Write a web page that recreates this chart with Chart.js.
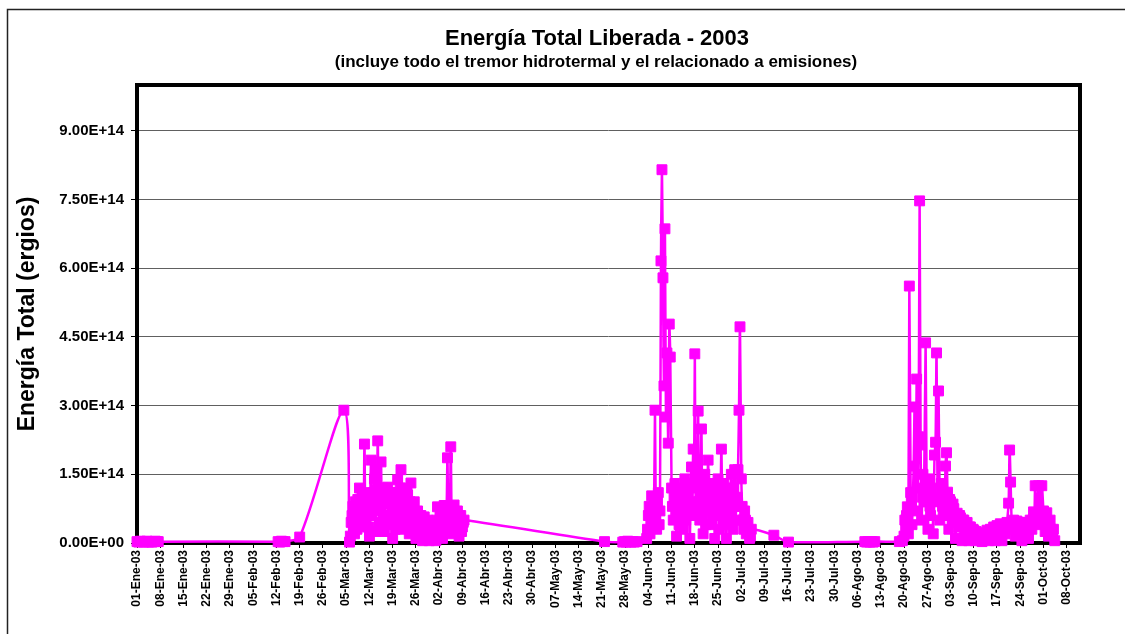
<!DOCTYPE html>
<html>
<head>
<meta charset="utf-8">
<script src="https://cdn.jsdelivr.net/npm/chart.js@4.4.0/dist/chart.umd.min.js"></script>
<style>
  html, body { margin: 0; padding: 0; background: #fff; }
  #wrap { width: 1125px; height: 634px; }
</style>
</head>
<body>
<div id="wrap"><canvas id="energia" width="1125" height="634"></canvas></div>
<script>
// x = días desde el 01-Ene-2003, y = energía en unidades de 1E+14 ergios

// enero - febrero y el pico de inicios de marzo
const diasEneFeb = [0, 0.5, 1, 1.5, 2, 2.5, 3, 3.5, 4, 4.5, 5, 5.5, 6, 6.4,
  42.5, 43, 43.5, 44, 44.6, 49, 62.3];
const energiaEneFeb = [0.03, 0.02, 0.04, 0.03, 0.02, 0.03, 0.04, 0.02, 0.03, 0.02, 0.03, 0.04, 0.03, 0.03,
  0.03, 0.02, 0.04, 0.03, 0.03, 0.13, 2.9];

// marzo - abril
const diasMarAbr = [
  64, 64.5, 65, 65.5, 66, 66.5, 67, 67.5, 68, 68.5,
  69, 69.5, 70, 70.5, 71, 71.5, 72, 72.5, 73, 73.5,
  74, 74.5, 75, 75.5, 76, 76.5, 77, 77.5, 78, 78.5,
  79, 79.5, 80, 80.5, 81, 81.5, 82, 82.5, 83, 83.5,
  84, 84.5, 85, 85.5, 86, 86.5, 87, 87.5, 88, 88.5,
  89, 89.5, 90, 90.5, 91, 91.5, 92, 92.5, 93, 93.5,
  94, 94.5, 95, 95.5, 96, 96.5, 97, 97.5, 98, 98.5];
const energiaMarAbr = [
  0.02, 0.45, 0.80, 0.20, 0.65, 0.95, 1.20, 0.35, 0.75, 2.16,
  0.55, 1.10, 0.15, 1.81, 0.85, 1.40, 1.60, 2.23, 0.45, 1.77,
  0.95, 0.25, 1.15, 1.22, 0.60, 1.00, 0.10, 1.10, 0.70, 1.38,
  0.90, 1.60, 0.30, 1.20, 0.75, 1.05, 0.20, 1.31, 0.60, 0.90,
  0.10, 0.70, 0.40, 0.60, 0.05, 0.57, 0.30, 0.50, 0.05, 0.45,
  0.25, 0.40, 0.05, 0.79, 0.35, 0.65, 0.10, 0.82, 0.50, 1.86,
  0.60, 2.10, 0.20, 0.83, 0.45, 0.70, 0.15, 0.60, 0.35, 0.50];
// lecturas intermedias de marzo - abril
const diasMarAbr2 = [
  64.25, 64.75, 65.25, 65.75, 66.25, 66.75, 67.25, 67.75, 68.25, 68.75,
  69.25, 69.75, 70.25, 70.75, 71.25, 71.75, 72.25, 72.75, 73.25, 73.75,
  74.25, 74.75, 75.25, 75.75, 76.25, 76.75, 77.25, 77.75, 78.25, 78.75,
  79.25, 79.75, 80.25, 80.75, 81.25, 81.75, 82.25, 82.75, 83.25, 83.75,
  84.25, 84.75, 85.25, 85.75, 86.25, 86.75, 87.25, 87.75, 88.25, 88.75,
  89.25, 89.75, 90.25, 90.75, 91.25, 91.75, 92.25, 92.75, 93.25, 93.75,
  94.25, 94.75, 95.25, 95.75, 96.25, 96.75, 97.25, 97.75, 98.25];
const energiaMarAbr2 = [
  0.15, 0.6, 0.4, 0.9, 0.3, 0.55, 0.8, 1.0, 0.45, 0.7,
  0.9, 0.35, 1.0, 0.6, 1.1, 0.25, 0.8, 1.05, 0.7, 0.3,
  1.2, 0.6, 0.85, 0.4, 1.1, 0.55, 0.8, 0.3, 1.0, 0.5,
  1.2, 0.65, 0.95, 0.4, 1.1, 0.55, 0.9, 0.3, 0.75, 0.45,
  0.6, 0.25, 0.55, 0.2, 0.45, 0.15, 0.4, 0.2, 0.3, 0.1,
  0.35, 0.2, 0.5, 0.3, 0.6, 0.25, 0.7, 0.4, 0.75, 0.3,
  0.8, 0.55, 0.7, 0.3, 0.6, 0.4, 0.55, 0.25, 0.45];

// mayo
const diasMay = [140.8, 146.3, 146.8, 147.3, 147.8, 148.3, 148.8, 149.3, 149.8, 150.6];
const energiaMay = [0.03, 0.02, 0.03, 0.02, 0.04, 0.03, 0.02, 0.03, 0.02, 0.03];

// junio - inicios de julio
const diasJun = [
  153.5, 154, 154.5, 155, 155.5, 156, 156.5, 157, 157.5,
  157.8, 158.1, 158.4, 158.7, 159, 159.3, 159.6, 160, 160.3, 160.6,
  161, 161.5, 162, 162.5, 163, 163.5, 164, 164.5, 165, 165.5,
  166, 166.5, 167, 167.5, 168, 168.5, 169, 169.5, 170, 170.5,
  171, 171.5, 172, 172.5, 173, 173.5, 174, 174.5, 175, 175.5,
  176, 176.5, 177, 177.5, 178, 178.5, 179, 179.5, 180, 180.5,
  181, 181.3, 181.6, 182, 182.5, 183, 183.5, 184, 184.5, 185];
const energiaJun = [
  0.1, 0.6, 0.2, 1.03, 0.5, 2.9, 0.3, 1.1, 0.7,
  6.16, 8.15, 5.79, 3.43, 6.86, 2.75, 4.15, 2.18, 4.78, 4.06,
  1.2, 0.5, 1.3, 0.15, 0.9, 0.6, 1.2, 0.3, 1.4, 0.8,
  1.3, 0.1, 1.66, 2.05, 4.13, 0.9, 2.88, 0.5, 2.49, 0.2,
  1.5, 0.7, 1.81, 0.4, 1.3, 0.9, 0.1, 1.1, 1.4, 0.3,
  2.05, 0.6, 1.2, 0.1, 1.0, 0.7, 1.5, 0.3, 1.6, 0.8,
  1.6, 2.9, 4.72, 1.4, 0.5, 0.7, 0.2, 0.45, 0.1, 0.3];
// lecturas intermedias de junio
const diasJun2 = [
  153.75, 154.25, 154.75, 155.25, 155.75, 156.25, 156.75, 157.25,
  161.25, 161.75, 162.25, 162.75, 163.25, 163.75, 164.25, 164.75, 165.25, 165.75,
  166.25, 166.75, 167.25, 167.75, 168.25, 168.75, 169.25, 169.75, 170.25, 170.75,
  171.25, 171.75, 172.25, 172.75, 173.25, 173.75, 174.25, 174.75, 175.25, 175.75,
  176.25, 176.75, 177.25, 177.75, 178.25, 178.75, 179.25, 179.75, 180.25, 180.75,
  182.25, 182.75, 183.25, 183.75, 184.25, 184.75];
const energiaJun2 = [
  0.3, 0.8, 0.5, 0.7, 1.0, 0.6, 0.9, 0.4,
  0.8, 1.0, 0.6, 1.1, 0.4, 0.9, 0.7, 1.0, 0.5, 1.1,
  0.8, 1.2, 0.6, 1.3, 0.7, 1.4, 0.9, 1.2, 0.6, 1.1,
  0.4, 1.0, 0.8, 1.2, 0.5, 1.0, 0.7, 1.2, 0.6, 1.0,
  0.8, 1.3, 0.5, 0.9, 0.4, 1.1, 0.8, 1.2, 0.5, 1.0,
  0.8, 0.3, 0.5, 0.35, 0.25, 0.15];

// julio - agosto (tranquilo)
const diasJulAgo = [191.8, 196.2, 219.2, 219.7, 220.2, 220.7, 221.2, 221.7, 222.2, 229.6, 230.5];
const energiaJulAgo = [0.17, 0.02, 0.03, 0.02, 0.03, 0.02, 0.03, 0.02, 0.03, 0.03, 0.05];

// fines de agosto - octubre
const diasAgoOct = [
  231, 231.5, 232, 232.3, 232.6, 233, 233.4, 233.9, 234.2, 234.5,
  234.8, 235.1, 235.4, 235.7, 236, 236.3, 236.7, 237, 237.5, 237.8,
  238.2, 238.6, 239, 239.4, 239.8, 240.2, 240.5, 240.8, 241.1, 241.4,
  241.8, 242.2, 242.6, 243, 243.5, 243.8, 244.1, 244.5, 245, 245.5,
  246, 246.5, 247, 247.5, 248, 248.5, 249, 249.5, 250, 250.5,
  251, 251.5, 252, 252.5, 253, 253.5, 254, 254.5, 255, 255.5,
  256, 256.5, 257, 257.5, 258, 258.5, 259, 259.5, 260, 260.5,
  261, 261.5, 262, 262.5, 262.8, 263.1, 263.5, 264, 264.5, 265,
  265.5, 266, 266.5, 267, 267.5, 268, 268.5, 269, 269.5, 270,
  270.5, 271, 271.5, 272, 272.5, 273, 273.5, 274, 274.5, 275,
  275.5, 276, 276.4];
const energiaAgoOct = [
  0.15, 0.35, 0.79, 0.2, 5.61, 1.1, 0.4, 1.68, 2.97, 0.7,
  3.58, 1.2, 2.32, 7.47, 2.14, 0.5, 1.5, 0.9, 4.37, 1.3,
  0.3, 1.4, 0.6, 1.2, 0.2, 1.92, 2.2, 4.15, 1.0, 3.32,
  0.5, 1.3, 0.8, 1.0, 1.68, 1.97, 1.11, 0.3, 0.9, 0.5,
  0.75, 0.1, 0.65, 0.35, 0.55, 0.05, 0.5, 0.25, 0.45, 0.05,
  0.35, 0.15, 0.28, 0.05, 0.22, 0.1, 0.2, 0.03, 0.22, 0.1,
  0.28, 0.05, 0.3, 0.15, 0.35, 0.05, 0.38, 0.2, 0.42, 0.05,
  0.4, 0.2, 0.45, 0.87, 2.03, 1.33, 0.3, 0.5, 0.15, 0.48,
  0.25, 0.45, 0.05, 0.42, 0.2, 0.45, 0.1, 0.5, 0.3, 0.68,
  1.25, 0.4, 1.25, 0.55, 1.25, 0.7, 0.25, 0.66, 0.15, 0.5,
  0.2, 0.3, 0.05];
// lecturas intermedias de agosto - octubre
const diasAgoOct2 = [
  231.25, 231.75, 233.2, 236.5, 238.0, 238.4, 238.8, 239.2, 239.6,
  242.0, 242.4, 242.8, 243.25, 244.3,
  244.75, 245.25, 245.75, 246.25, 246.75, 247.25, 247.75, 248.25, 248.75, 249.25,
  249.75, 250.25, 250.75, 251.25, 251.75, 252.25, 252.75, 253.25, 253.75, 254.25,
  254.75, 255.25, 255.75, 256.25, 256.75, 257.25, 257.75, 258.25, 258.75, 259.25,
  259.75, 260.25, 260.75, 261.25, 261.75,
  263.75, 264.25, 264.75, 265.25, 265.75, 266.25, 266.75, 267.25, 267.75, 268.25,
  268.75, 269.25, 269.75, 270.25,
  273.25, 273.75, 274.25, 274.75, 275.25, 275.75];
const energiaAgoOct2 = [
  0.5, 0.6, 0.9, 1.0, 0.9, 1.1, 0.8, 0.9, 1.0,
  0.9, 1.1, 0.6, 0.8, 0.7,
  0.95, 0.7, 0.85, 0.5, 0.6, 0.45, 0.6, 0.35, 0.5, 0.3,
  0.4, 0.25, 0.35, 0.2, 0.3, 0.15, 0.25, 0.12, 0.2, 0.1,
  0.18, 0.12, 0.2, 0.15, 0.25, 0.2, 0.3, 0.2, 0.3, 0.25,
  0.35, 0.25, 0.35, 0.3, 0.35,
  0.45, 0.3, 0.4, 0.3, 0.45, 0.3, 0.4, 0.3, 0.45, 0.3,
  0.4, 0.45, 0.5, 0.55,
  0.5, 0.45, 0.4, 0.35, 0.3, 0.2];

// eje x: una marca por semana
const etiquetasX = ['01-Ene-03', '08-Ene-03', '15-Ene-03', '22-Ene-03', '29-Ene-03',
  '05-Feb-03', '12-Feb-03', '19-Feb-03', '26-Feb-03', '05-Mar-03', '12-Mar-03',
  '19-Mar-03', '26-Mar-03', '02-Abr-03', '09-Abr-03', '16-Abr-03', '23-Abr-03',
  '30-Abr-03', '07-May-03', '14-May-03', '21-May-03', '28-May-03', '04-Jun-03',
  '11-Jun-03', '18-Jun-03', '25-Jun-03', '02-Jul-03', '09-Jul-03', '16-Jul-03',
  '23-Jul-03', '30-Jul-03', '06-Ago-03', '13-Ago-03', '20-Ago-03', '27-Ago-03',
  '03-Sep-03', '10-Sep-03', '17-Sep-03', '24-Sep-03', '01-Oct-03', '08-Oct-03'];
const diasX = etiquetasX.map((_, i) => i * 7);

// eje y
const valoresY = [0, 1.5e14, 3.0e14, 4.5e14, 6.0e14, 7.5e14, 9.0e14];
const etiquetasY = ['0.00E+00', '1.50E+14', '3.00E+14', '4.50E+14', '6.00E+14', '7.50E+14', '9.00E+14'];

const dias = [].concat(diasEneFeb, diasMarAbr, diasMarAbr2, diasMay, diasJun, diasJun2,
  diasJulAgo, diasAgoOct, diasAgoOct2);
const energia = [].concat(energiaEneFeb, energiaMarAbr, energiaMarAbr2, energiaMay, energiaJun, energiaJun2,
  energiaJulAgo, energiaAgoOct, energiaAgoOct2);
const puntos = dias.map((d, i) => ({ x: d, y: energia[i] * 1e14 })).sort((a, b) => a.x - b.x);

const FUENTE = "'Liberation Sans', Arial, sans-serif";

const marcoYTitulos = {
  id: 'marcoYTitulos',
  beforeDatasetsDraw(chart) {
    const { ctx, chartArea: a } = chart;
    ctx.save();
    ctx.strokeStyle = '#000';
    ctx.lineWidth = 4;
    ctx.strokeRect(a.left, a.top, a.right - a.left, a.bottom - a.top);
    ctx.restore();
  },
  afterDraw(chart) {
    const { ctx } = chart;
    ctx.save();
    // borde exterior
    ctx.strokeStyle = '#222';
    ctx.lineWidth = 1.5;
    ctx.beginPath();
    ctx.moveTo(7.5, 634);
    ctx.lineTo(7.5, 9.5);
    ctx.lineTo(1125, 9.5);
    ctx.stroke();
    // títulos
    ctx.fillStyle = '#000';
    ctx.textAlign = 'center';
    ctx.textBaseline = 'alphabetic';
    ctx.font = 'bold 22px ' + FUENTE;
    ctx.fillText('Energía Total Liberada - 2003', 597, 45);
    ctx.font = 'bold 17px ' + FUENTE;
    ctx.fillText('(incluye todo el tremor hidrotermal y el relacionado a emisiones)', 596, 67);
    ctx.restore();
  }
};

new Chart(document.getElementById('energia'), {
  type: 'line',
  data: {
    datasets: [{
      data: puntos,
      borderColor: '#FF00FF',
      backgroundColor: '#FF00FF',
      borderWidth: 2.5,
      pointStyle: 'rect',
      pointRadius: 7,
      pointBorderWidth: 1,
      pointBackgroundColor: '#FF00FF',
      pointBorderColor: '#FF00FF',
      tension: 0.3,
      clip: 8
    }]
  },
  options: {
    responsive: false,
    devicePixelRatio: 1,
    animation: false,
    layout: { padding: { top: 85, right: 45, bottom: 0, left: 0 } },
    plugins: {
      legend: { display: false },
      tooltip: { enabled: false },
      title: { display: false }
    },
    scales: {
      x: {
        type: 'linear',
        min: 0,
        max: 284,
        afterBuildTicks: s => { s.ticks = diasX.map(v => ({ value: v })); },
        afterFit: s => { s.height = 91; },
        border: { display: false },
        grid: { drawOnChartArea: false, color: '#000', tickLength: 5 },
        ticks: {
          autoSkip: false,
          maxRotation: 90,
          minRotation: 90,
          padding: 2,
          color: '#000',
          font: { family: FUENTE, size: 12, weight: 'bold' },
          callback: v => etiquetasX[Math.round(v / 7)]
        }
      },
      y: {
        min: 0,
        max: 1e15,
        afterBuildTicks: s => { s.ticks = valoresY.map(v => ({ value: v })); },
        afterFit: s => { s.width = 137; },
        border: { display: false },
        grid: { color: '#606060', lineWidth: 1, tickLength: 6, tickColor: '#000' },
        ticks: {
          padding: 7,
          color: '#000',
          font: { family: FUENTE, size: 15, weight: 'bold' },
          callback: (v, i) => etiquetasY[i]
        },
        title: {
          display: true,
          text: 'Energía Total (ergios)',
          color: '#000',
          font: { family: FUENTE, size: 23, weight: 'bold' },
          padding: { top: 14, bottom: 0 }
        }
      }
    }
  },
  plugins: [marcoYTitulos]
});
</script>
</body>
</html>
